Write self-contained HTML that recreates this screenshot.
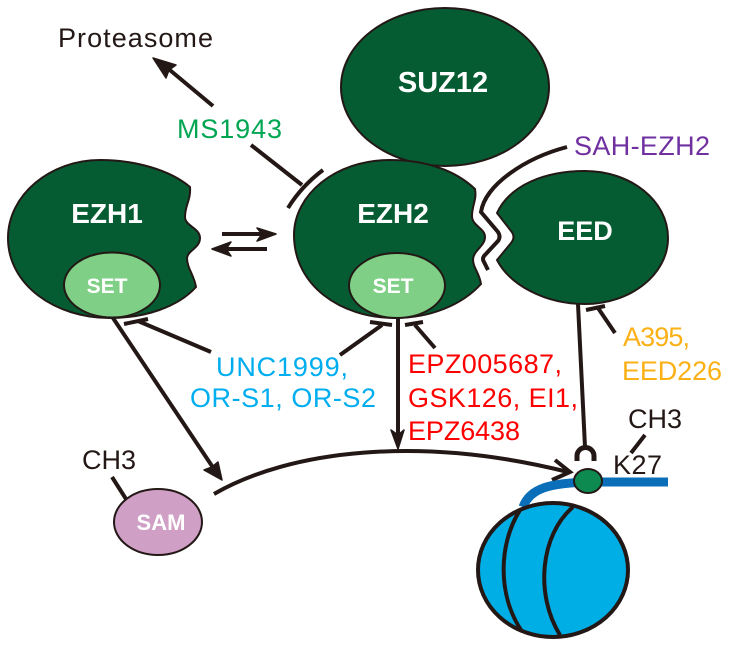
<!DOCTYPE html>
<html><head><meta charset="utf-8"><style>
html,body{margin:0;padding:0;background:#fff}
svg{display:block}
text{font-family:"Liberation Sans",sans-serif}
.w{fill:#fff;font-weight:bold;text-anchor:middle}
.l{font-size:27px}
</style></head><body>
<svg width="736" height="652" viewBox="0 0 736 652" xmlns="http://www.w3.org/2000/svg">
<g stroke="#231815" stroke-width="2">
<ellipse cx="445" cy="87" rx="104" ry="79" fill="#065c32"/>
<path d="M190 187C170 170 135 160 100 160C50 160 8 195 8 238C8 285 55 318 110 318C145 318 178 307 196 287C194 275 187 268 187 258C188 250 200 248 200 238C200 228 185 226 185 217C185 205 191 200 190 187Z" fill="#065c32"/>
<ellipse cx="112" cy="285" rx="48" ry="32.500" fill="#7fcf86"/>
<path d="M475 189C455 170 425 160 390 160C335 160 294 195 294 235C294 285 340 318 395 318C430 318 462 305 481 284C479 272 473 268 473 259C474 250 485 246 485 237C485 228 472 226 472 216C472 205 477 200 475 189Z" fill="#065c32"/>
<ellipse cx="397" cy="285.500" rx="48" ry="32.500" fill="#7fcf86"/>
<path d="M497 213C510 185 545 171 585 171C630 171 668 200 668 238C668 275 630 304 585 304C545 304 510 285 497 260L511 243Q516 237 511 231Z" fill="#065c32"/>
<ellipse cx="158" cy="522" rx="44" ry="33" fill="#cf9fc6"/>
</g>
<text class="w" x="107" y="223" font-size="28">EZH1</text>
<text class="w" x="393" y="223" font-size="28">EZH2</text>
<text class="w" x="585" y="240" font-size="27">EED</text>
<text class="w" x="443" y="92" font-size="29">SUZ12</text>
<text class="w" x="107" y="293" font-size="21">SET</text>
<text class="w" x="393" y="293" font-size="21">SET</text>
<text class="w" x="161" y="530" font-size="22">SAM</text>
<g fill="none" stroke="#231815" stroke-width="4">
<path d="M213 106L165 66"/>
<path d="M251 145L302 185"/>
<path d="M288 208C296 195 307 182 323 170"/>
<path d="M567 147C525 158 485 185 481 212L498 232Q501 237 498 241L484 256Q482 259 484 262L488 270"/>
<path d="M222 234H262M267 249H226"/>
<path d="M113 318L214 469"/>
<path d="M124 324L148 319M138 321L211 352"/>
<path d="M340 355L382 325M370 322L392 325"/>
<path d="M398 318V436"/>
<path d="M435 348L415 325M405 325L423 322"/>
<path d="M578 304L585 447"/>
<path d="M615 333L598 308M586 310L605 306"/>
<path d="M214 494C290 450 420 435 568 472"/>
<path d="M555 460L570 472L552 480"/>
<path d="M112 477L126 499"/>
<path d="M645 435L631 453"/>
<path d="M577 461V456A8.500 8.500 0 0 1 594 456V461" stroke-width="5"/>
</g>
<g fill="#231815" stroke="#231815" stroke-width="1.500" stroke-linejoin="round">
<path d="M153 58L176 65L169 70L166 78Z"/>
<path d="M276 234L257 228L262 234L257 241Z"/>
<path d="M212 249L231 242L226 249L231 256Z"/>
<path d="M222 480L204 470L212 467L218 462Z"/>
<path d="M398 449L391 430L398 435L404 430Z"/>
</g>
<path d="M523 507C530 488 550 483 590 482H668" fill="none" stroke="#0a6fb8" stroke-width="9"/>
<ellipse cx="588" cy="481" rx="14" ry="12" fill="#0d8a4f" stroke="#231815" stroke-width="2"/>
<ellipse cx="553" cy="570" rx="75" ry="67" fill="#00aee6" stroke="#231815" stroke-width="4"/>
<path d="M520 510C498 545 498 595 521 630M573 507C540 535 535 595 560 635" fill="none" stroke="#231815" stroke-width="4"/>
<text x="58" y="47" class="l" fill="#231815" textLength="155">Proteasome</text>
<text x="177" y="138" class="l" fill="#00a651" textLength="105">MS1943</text>
<text x="574" y="155" class="l" fill="#7030a0" textLength="136">SAH-EZH2</text>
<text x="216" y="376" class="l" fill="#00aeef" textLength="132">UNC1999,</text>
<text x="190" y="407" class="l" fill="#00aeef" textLength="186">OR-S1, OR-S2</text>
<text x="408" y="373" class="l" fill="#ff0000" textLength="154">EPZ005687,</text>
<text x="408" y="407" class="l" fill="#ff0000" textLength="170">GSK126, EI1,</text>
<text x="408" y="440" class="l" fill="#ff0000" textLength="112">EPZ6438</text>
<text x="623" y="346" class="l" fill="#fbb116" textLength="67">A395,</text>
<text x="622" y="380" class="l" fill="#fbb116" textLength="100">EED226</text>
<text x="82" y="469" class="l" fill="#231815" textLength="54">CH3</text>
<text x="628" y="428" class="l" fill="#231815" textLength="54">CH3</text>
<text x="613" y="474" class="l" fill="#231815" textLength="49">K27</text>
</svg>
</body></html>
